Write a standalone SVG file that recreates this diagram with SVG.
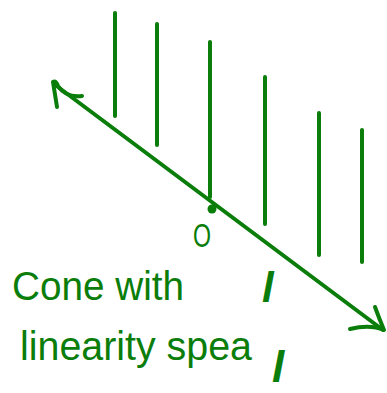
<svg xmlns="http://www.w3.org/2000/svg" width="387" height="393" viewBox="0 0 387 393">
<style>
.s{stroke:#0a7d0a;stroke-width:4;stroke-linecap:round;stroke-linejoin:round;fill:none}
.t{fill:#0a7d0a;font-family:"Liberation Sans",Arial,sans-serif}
</style>
<rect width="387" height="393" fill="#fff"/>
<g id="rays">
<line class="s" x1="115" y1="13" x2="115" y2="116"/>
<line class="s" x1="157" y1="24" x2="157" y2="145"/>
<line class="s" x1="210" y1="42" x2="210" y2="197"/>
<line class="s" x1="265" y1="77" x2="265" y2="224"/>
<line class="s" x1="319" y1="113" x2="319" y2="255"/>
<line class="s" x1="362" y1="130" x2="362" y2="262"/>
</g>
<g id="connectors">
<line class="s" x1="54" y1="84" x2="383" y2="330"/>
<path class="s" d="M57,107 L53,82 Q56,80 58,86 Q66,98 82,96"/>
<path class="s" d="M375,307 Q379,318 384,330 Q370,324 350,329"/>
</g>
<g id="origin">
<circle cx="212" cy="209" r="4.5" fill="#0a7d0a"/>
<text class="t" x="193" y="247" font-size="33" textLength="18" lengthAdjust="spacingAndGlyphs">O</text>
</g>
<g id="labels">
<text class="t" x="262" y="302" font-size="42" font-style="italic" font-weight="bold">l</text>
<text class="t" x="12" y="300" font-size="40" textLength="172" lengthAdjust="spacingAndGlyphs">Cone with</text>
<text class="t" x="20" y="360" font-size="40" textLength="232" lengthAdjust="spacingAndGlyphs">linearity spea</text>
<text class="t" x="272" y="382" font-size="44" font-style="italic" font-weight="bold">l</text>
</g>
</svg>
